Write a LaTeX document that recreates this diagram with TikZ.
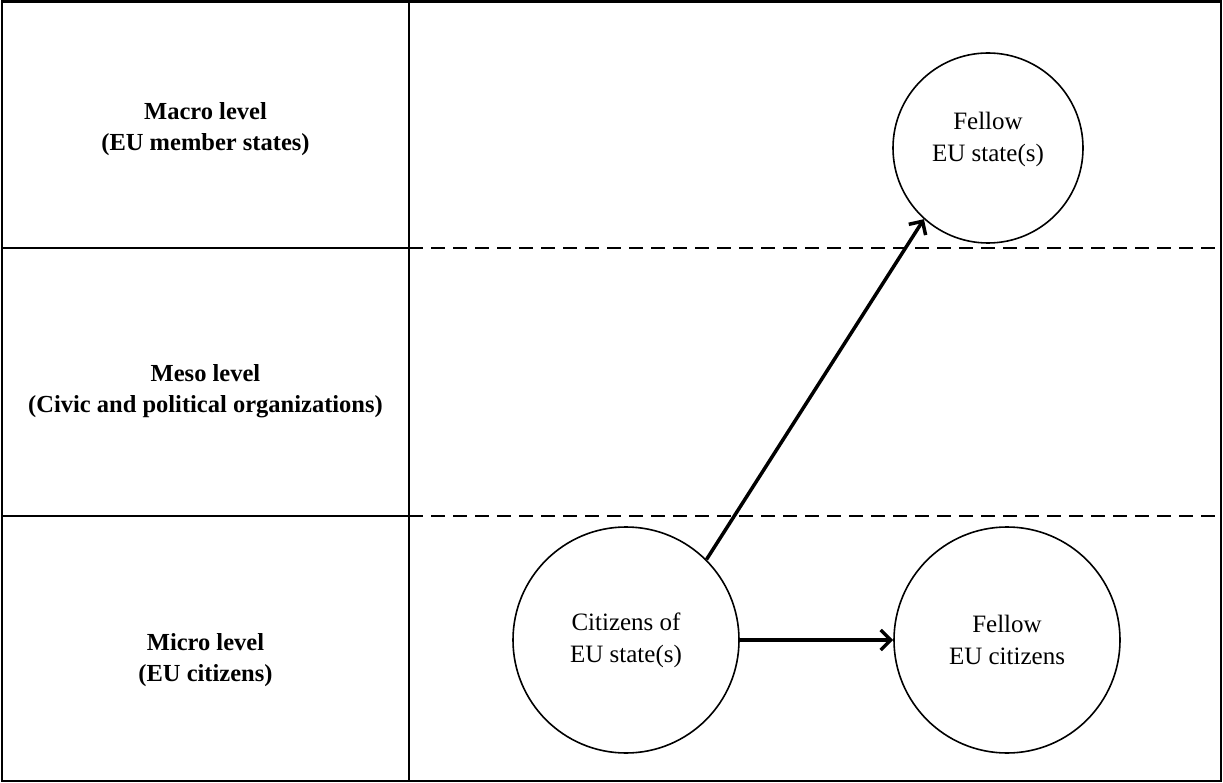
\documentclass[tikz,border=0pt]{standalone}
\usepackage{fontspec}
\setmainfont{Liberation Serif}
\usetikzlibrary{arrows.meta}
\begin{document}
\begin{tikzpicture}[x=1pt,y=-1pt,
  lvl/.style={font=\fontsize{24.5}{31}\selectfont\bfseries, align=center, inner sep=0pt},
  actor/.style={circle, draw, line width=1.6pt, align=center, inner sep=0pt,
    font=\fontsize{25}{32}\selectfont},
  gridline/.style={line width=1.8pt},
  dashline/.style={line width=1.6pt, dash pattern=on 14pt off 8pt},
  flow/.style={line width=3.5pt, -{Straight Barb[length=10pt,width=20pt,line width=3.5pt]}}
]
\useasboundingbox (0,0) rectangle (1223,783);
% table frame
\draw[gridline, line width=2.2pt] (2,1.5) rectangle (1221,781);
\draw[gridline] (409,1.5) -- (409,781);
\draw[gridline] (2,248) -- (409,248);
\draw[gridline] (2,516) -- (409,516);
\draw[dashline] (409,248) -- (1221,248);
\draw[dashline] (409,516) -- (1221,516);
% level labels
\node[lvl] (macro) at (205.5,129) {Macro level\\(EU member states)};
\node[lvl] (meso) at (205.5,391) {Meso level\\(Civic and political organizations)};
\node[lvl] (micro) at (205.5,660) {Micro level\\(EU citizens)};
% actors
\node[actor, minimum size=190pt, text depth=22pt] (fes) at (988,148) {Fellow\\EU state(s)};
\node[actor, minimum size=226pt] (cit) at (626,640) {Citizens of\\EU state(s)};
\node[actor, minimum size=226pt] (fec) at (1007,640) {Fellow\\EU citizens};
% connectors
\draw[flow] (cit.45) -- (fes.228);
\draw[flow] (cit.east) -- (fec.west);
\end{tikzpicture}
\end{document}
